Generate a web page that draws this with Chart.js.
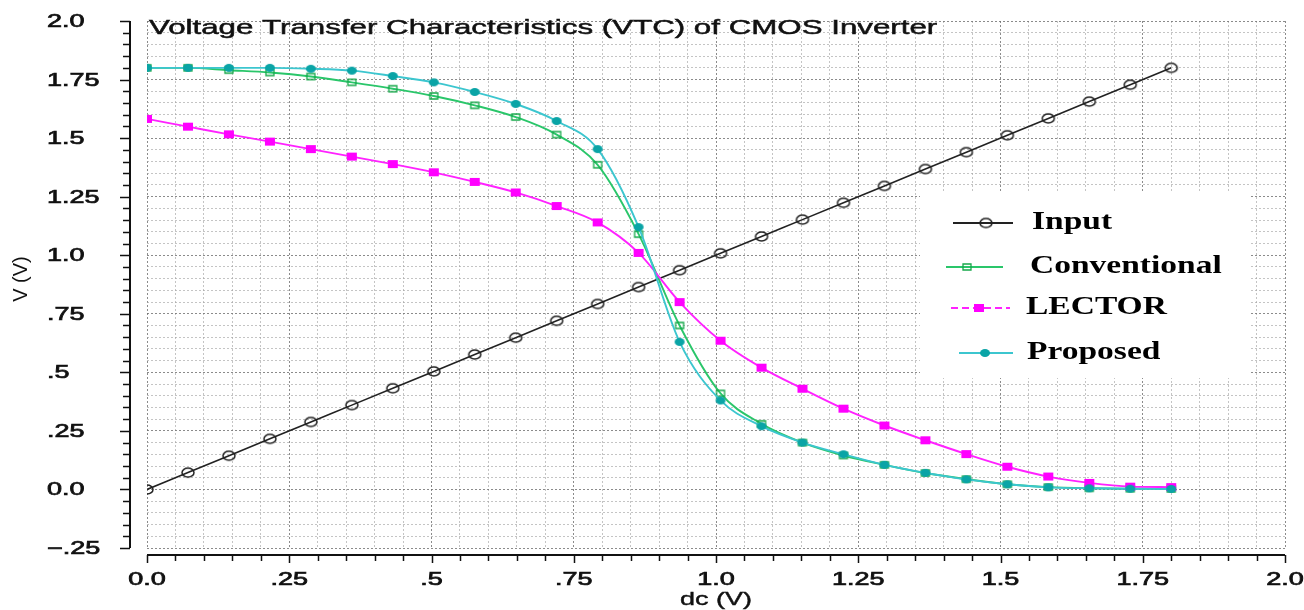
<!DOCTYPE html>
<html>
<head>
<meta charset="utf-8">
<script src="https://cdn.jsdelivr.net/npm/chart.js@4.4.1/dist/chart.umd.min.js"></script>
<style>
  html, body { margin: 0; padding: 0; background: #fff; }
  #vtc { display: block; }
</style>
</head>
<body>
<canvas id="vtc" width="1304" height="610"></canvas>
<script>
'use strict';

// dc sweep points (V) where the markers sit
var dcSweep = [0, 0.072, 0.144, 0.216, 0.288, 0.36, 0.432, 0.504, 0.576, 0.648, 0.72, 0.792, 0.864,
	0.936, 1.008, 1.08, 1.152, 1.224, 1.296, 1.368, 1.44, 1.512, 1.584, 1.656, 1.728, 1.8];

var inputV = [0, 0.072, 0.144, 0.216, 0.288, 0.36, 0.432, 0.504, 0.576, 0.648, 0.72, 0.792, 0.864,
	0.936, 1.008, 1.08, 1.152, 1.224, 1.296, 1.368, 1.44, 1.512, 1.584, 1.656, 1.728, 1.8];
var conventionalV = [1.80, 1.80, 1.79, 1.78, 1.763, 1.738, 1.711, 1.68, 1.64, 1.59, 1.515, 1.386, 1.09,
	0.70, 0.41, 0.28, 0.20, 0.145, 0.105, 0.07, 0.044, 0.022, 0.01, 0.005, 0.003, 0.002];
var lectorV = [1.582, 1.549, 1.516, 1.485, 1.453, 1.421, 1.389, 1.354, 1.313, 1.268, 1.21, 1.14, 1.01,
	0.80, 0.635, 0.52, 0.43, 0.345, 0.273, 0.21, 0.151, 0.097, 0.055, 0.028, 0.012, 0.01];
var proposedV = [1.80, 1.80, 1.80, 1.80, 1.796, 1.788, 1.765, 1.738, 1.697, 1.646, 1.573, 1.453, 1.12,
	0.63, 0.38, 0.27, 0.20, 0.15, 0.105, 0.071, 0.043, 0.022, 0.009, 0.005, 0.003, 0.002];

var seriesNames = ['Input', 'Conventional', 'LECTOR', 'Proposed'];
var xTickValues = [0, 0.25, 0.5, 0.75, 1.0, 1.25, 1.5, 1.75, 2.0];
var yTickValues = [-0.25, 0, 0.25, 0.5, 0.75, 1.0, 1.25, 1.5, 1.75, 2.0];

var TITLE = 'Voltage Transfer Characteristics (VTC) of CMOS Inverter';
var STRETCH = 1.5; // the source picture is stretched sideways

var isMajor = function(v) {
	var q = v / 0.25;
	return Math.abs(q - Math.round(q)) < 1e-6;
};

var fmtTick = function(v) {
	v = Math.round(v * 100) / 100;
	if (v === 0) return '0.0';
	var s = Number.isInteger(v) ? v.toFixed(1) : String(v);
	return s.replace(/^-0\./, '\u2212.').replace(/^0\./, '.');
};

// little canvases for the marker shapes (ellipses, because the source is stretched)
var makeMarker = function(shape, w, h, fill, stroke, lw) {
	var c = document.createElement('canvas');
	c.width = w + 4;
	c.height = h + 4;
	var g = c.getContext('2d');
	g.beginPath();
	if (shape === 'ellipse') {
		g.ellipse(c.width / 2, c.height / 2, w / 2, h / 2, 0, 0, Math.PI * 2);
	} else {
		g.rect(2, 2, w, h);
	}
	if (fill) { g.fillStyle = fill; g.fill(); }
	if (stroke) { g.strokeStyle = stroke; g.lineWidth = lw; g.stroke(); }
	return c;
};

var markers = [
	makeMarker('ellipse', 12, 9, null, '#222', 1.5),
	makeMarker('rect', 8, 6, null, '#16a84a', 1.3),
	makeMarker('rect', 10, 8, '#ff00ff', null, 0),
	makeMarker('ellipse', 10, 8, '#0aa4a6', null, 0)
];
var lineColors = ['#222222', '#2ac66a', '#ff22ff', '#3cc6cf'];

var toPoints = function(ys) {
	return dcSweep.map(function(x, i) { return { x: x, y: ys[i] }; });
};

// text drawn wider than normal, with a thin outline for a bit more weight
var stretchText = function(ctx, text, x, y, sx, align, weight) {
	ctx.save();
	ctx.translate(x, y);
	ctx.scale(sx, 1);
	ctx.textAlign = align;
	ctx.fillText(text, 0, 0);
	if (weight) {
		ctx.strokeStyle = ctx.fillStyle;
		ctx.lineWidth = weight;
		ctx.strokeText(text, 0, 0);
	}
	ctx.restore();
};

var vtcDecor = {
	id: 'vtcDecor',
	afterDraw: function(chart) {
		var ctx = chart.ctx;
		var a = chart.chartArea;
		var xs = chart.scales.x, ys = chart.scales.y;
		var axisX = 130, axisY = 555;
		ctx.save();

		// axis lines with tick marks, set apart from the plot frame
		ctx.strokeStyle = '#111';
		ctx.lineWidth = 2;
		ctx.beginPath();
		ctx.moveTo(axisX, a.top);
		ctx.lineTo(axisX, a.bottom);
		ctx.moveTo(a.left, axisY);
		ctx.lineTo(a.right, axisY);
		ctx.stroke();
		ctx.lineWidth = 1.5;
		ctx.beginPath();
		ys.ticks.forEach(function(t) {
			var py = Math.round(ys.getPixelForValue(t.value)) + 0.5;
			ctx.moveTo(axisX - (isMajor(t.value) ? 10 : 7), py);
			ctx.lineTo(axisX, py);
		});
		xs.ticks.forEach(function(t) {
			var px = Math.round(xs.getPixelForValue(t.value)) + 0.5;
			ctx.moveTo(px, axisY);
			ctx.lineTo(px, axisY + (isMajor(t.value) ? 8 : 6));
		});
		ctx.stroke();

		// tick labels
		ctx.fillStyle = '#111';
		ctx.font = '18px "Liberation Sans", Arial, sans-serif';
		ctx.textBaseline = 'middle';
		yTickValues.forEach(function(v) {
			stretchText(ctx, fmtTick(v), 47, ys.getPixelForValue(v) + 1, STRETCH, 'left', 0.7);
		});
		xTickValues.forEach(function(v) {
			stretchText(ctx, fmtTick(v), xs.getPixelForValue(v), 580, STRETCH, 'center', 0.7);
		});

		// axis titles
		stretchText(ctx, 'dc (V)', (a.left + a.right) / 2, 600, STRETCH, 'center', 0.4);
		ctx.save();
		ctx.translate(21, 279);
		ctx.rotate(-Math.PI / 2);
		ctx.font = '20px "Liberation Sans", Arial, sans-serif';
		ctx.textAlign = 'center';
		ctx.fillText('V (V)', 0, 0);
		ctx.restore();

		// title inside the plot
		ctx.font = '21px "Liberation Sans", Arial, sans-serif';
		stretchText(ctx, TITLE, 149, 28, 1.49, 'left', 0.5);

		// legend box
		ctx.fillStyle = '#fff';
		ctx.fillRect(920, 192, 330, 186);
		var rows = [
			{ y: 223, x0: 953, x1: 1013, mx: 986, tx: 1032 },
			{ y: 267, x0: 946, x1: 1003, mx: 967, tx: 1030 },
			{ y: 308, x0: 951, x1: 1010, mx: 979, tx: 1026 },
			{ y: 353, x0: 959, x1: 1013, mx: 985, tx: 1027 }
		];
		ctx.font = 'bold 25px "Liberation Serif", "Times New Roman", serif';
		rows.forEach(function(r, i) {
			ctx.save();
			ctx.strokeStyle = lineColors[i];
			ctx.lineWidth = 2;
			if (i === 2) ctx.setLineDash([7, 4]);
			ctx.beginPath();
			ctx.moveTo(r.x0, r.y);
			ctx.lineTo(r.x1, r.y);
			ctx.stroke();
			ctx.restore();
			var m = markers[i];
			ctx.drawImage(m, r.mx - m.width / 2, r.y - m.height / 2);
			ctx.fillStyle = '#000';
			stretchText(ctx, seriesNames[i], r.tx, r.y, 1.34, 'left', 0);
		});
		ctx.restore();
	}
};

var gridColor = function(c) {
	return isMajor(c.tick.value) ? 'rgba(110,110,110,0.8)' : 'rgba(165,165,165,0.65)';
};

var ctx = document.getElementById('vtc').getContext('2d');
var vtcChart = new Chart(ctx, {
	type: 'line',
	data: {
		datasets: [inputV, conventionalV, lectorV, proposedV].map(function(vals, i) {
			return {
				label: seriesNames[i],
				data: toPoints(vals),
				borderColor: lineColors[i],
				backgroundColor: lineColors[i],
				borderWidth: i === 0 ? 1.6 : 1.9,
				pointStyle: markers[i],
				pointRadius: 5,
				cubicInterpolationMode: 'monotone',
				fill: false,
				order: [3, 2, 1, 0][i]
			};
		})
	},
	options: {
		responsive: false,
		animation: false,
		events: [],
		layout: { padding: { left: 0, top: 21, right: 19, bottom: 0 } },
		plugins: {
			legend: { display: false },
			title: { display: false },
			tooltip: { enabled: false }
		},
		scales: {
			x: {
				type: 'linear',
				min: 0,
				max: 2.0,
				ticks: { display: false, stepSize: 0.05 },
				grid: { color: gridColor, lineWidth: 1, drawTicks: false },
				border: { display: false, dash: [2, 2] },
				afterFit: function(s) { s.height = 62; }
			},
			y: {
				type: 'linear',
				min: -0.25,
				max: 2.0,
				ticks: { display: false, stepSize: 0.05 },
				grid: { color: gridColor, lineWidth: 1, drawTicks: false },
				border: { display: false, dash: [2, 2] },
				afterFit: function(s) { s.width = 147; }
			}
		}
	},
	plugins: [vtcDecor]
});
</script>
</body>
</html>
